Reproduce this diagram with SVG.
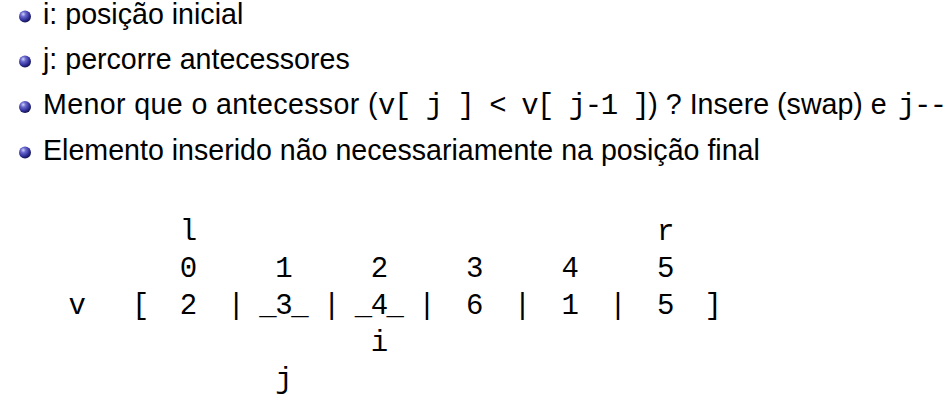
<svg xmlns="http://www.w3.org/2000/svg" width="948" height="402" viewBox="0 0 948 402">
<defs>
<radialGradient id="ball" cx="0.38" cy="0.32" r="0.7" fx="0.35" fy="0.3">
<stop offset="0" stop-color="#d4d4f4"/>
<stop offset="0.3" stop-color="#6a6ad0"/>
<stop offset="0.75" stop-color="#2a2a90"/>
<stop offset="1" stop-color="#121248"/>
</radialGradient>
<style>
.s{font-family:"Liberation Sans",Arial,sans-serif;font-size:28.6px;fill:#000}
.m{font-family:"Liberation Mono","Courier New",monospace;font-size:29px;letter-spacing:-1.5px;fill:#000}
.b{fill:url(#ball)}
.w{letter-spacing:0.38px}
</style>
</defs>
<rect width="948" height="402" fill="#fff"/>
<g id="item1"><circle class="b" cx="25" cy="16.5" r="6"/><text class="s" x="43" y="23.5">i: posição inicial</text></g>
<g id="item2"><circle class="b" cx="25" cy="61.5" r="6"/><text class="s" x="43" y="68.5">j: percorre antecessores</text></g>
<g id="item3"><circle class="b" cx="25" cy="107" r="6"/><text y="114" xml:space="preserve"><tspan class="s w" x="43">Menor que o antecessor (</tspan><tspan class="m" x="378">v[ j ] &lt; v[ j-1 ]</tspan><tspan class="s">) ? Insere (swap) e </tspan><tspan class="m" x="898">j--</tspan></text></g>
<g id="item4"><circle class="b" cx="25" cy="152.5" r="6"/><text class="s" x="43" y="159.5">Elemento inserido não necessariamente na posição final</text></g>
<g id="array">
<text class="m" x="68.5" y="240" xml:space="preserve">       l                             r</text>
<text class="m" x="68.5" y="277" xml:space="preserve">       0     1     2     3     4     5</text>
<text class="m" x="68.5" y="314" xml:space="preserve">v   [  2  | _3_ | _4_ |  6  |  1  |  5  ]</text>
<text class="m" x="68.5" y="351" xml:space="preserve">                   i</text>
<text class="m" x="68.5" y="388" xml:space="preserve">             j</text>
</g>
</svg>
